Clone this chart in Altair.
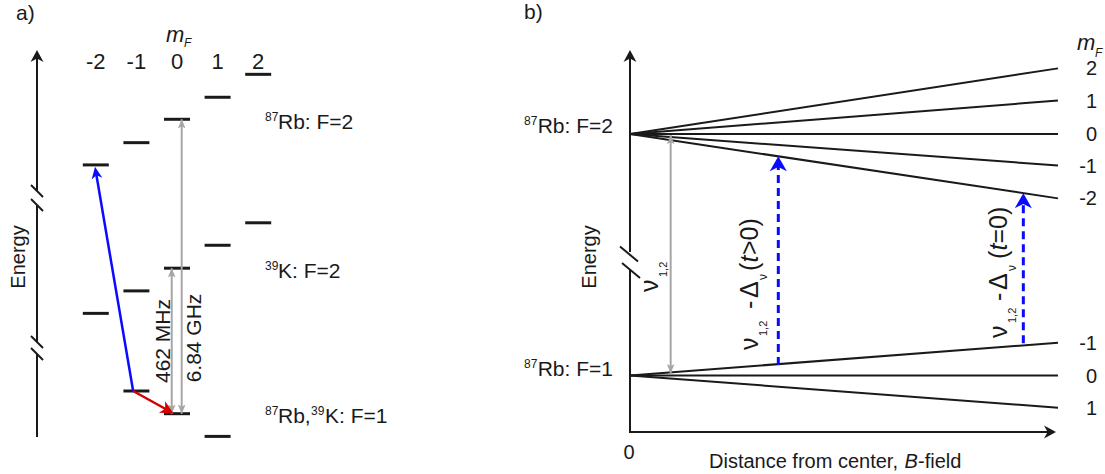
import math
import altair as alt
import pandas as pd

W, H = 1105, 474
FONT = "Liberation Sans"
INK = "#1a1a1a"
GREY = "#a6a6a6"
BLUE = "#0a0aff"
RED = "#d40000"

# ---------------- data ----------------
# panel a: level energies (arbitrary units; 1 unit = one Zeeman step)
mf_f2 = [-2, -1, 0, 1, 2]
mf_f2_labels = ["-2", "-1", "0", "1", "2"]
rb_f2_energy = [10.96, 11.94, 12.97, 13.94, 14.95]
k_f2_energy = [4.42, 5.41, 6.41, 7.42, 8.41]
mf_f1 = [-1, 0, 1]
f1_energy = [1.0, 0.0, -1.0]

hfs_labels = ["462 MHz", "6.84 GHz"]
hfs_mf = [-0.13, 0.116]
hfs_lower = [0.0, 0.0]
hfs_upper = [6.41, 12.97]

blue_mf = [-1.08, -2.02]
blue_energy = [1.0, 10.88]
red_mf = [-1.08, -0.09]
red_energy = [1.0, 0.02]

# panel b: Zeeman lines vs distance from centre
zee_distance = [0.0, 1.0]
zee_f2_labels = ["2", "1", "0", "-1", "-2"]
zee_f2_start = [7.43, 7.43, 7.43, 7.43, 7.43]
zee_f2_end = [9.45, 8.46, 7.43, 6.46, 5.45]
zee_f1_labels = ["-1", "0", "1"]
zee_f1_start = [0.0, 0.0, 0.0]
zee_f1_end = [1.01, 0.0, -0.99]

nu12_distance = [0.095]
nu12_lower = [0.07]
nu12_upper = [7.40]

probe_distance = [0.3465, 0.919]
probe_lower = [0.32, 0.99]
probe_upper = [6.75, 5.61]

# ---------------- scales (layout) ----------------
A_X0, A_DX, A_Y0, A_DY = 177.0, 40.6, 413.7, 22.7
B_X0, B_DX, B_Y0, B_DY = 630.0, 428.0, 375.5, 32.5

xa = alt.Scale(domain=[-A_X0 / A_DX, (W - A_X0) / A_DX], nice=False, zero=False)
ya = alt.Scale(domain=[(A_Y0 - H) / A_DY, A_Y0 / A_DY], nice=False, zero=False)
xb = alt.Scale(domain=[-B_X0 / B_DX, (W - B_X0) / B_DX], nice=False, zero=False)
yb = alt.Scale(domain=[(B_Y0 - H) / B_DY, B_Y0 / B_DY], nice=False, zero=False)


def pa(m, e):
    return (A_X0 + A_DX * m, A_Y0 - A_DY * e)


def heading(p, q):
    return math.degrees(math.atan2(q[0] - p[0], -(q[1] - p[1]))) % 360


def head_path(hw, notch):
    return f"M0,0L{hw},1L0,{notch}L{-hw},1Z"


ONE = pd.DataFrame({"k": [0]})


def Xq(f, s):
    return alt.X(f, type="quantitative", scale=s, axis=None)


def Yq(f, s):
    return alt.Y(f, type="quantitative", scale=s, axis=None)


def txt(s, px, py, size=21, align="left", baseline="alphabetic", angle=0,
        italic=False, color=INK):
    kw = dict(fontSize=size, align=align, baseline=baseline, font=FONT, color=color)
    if angle:
        kw["angle"] = angle
    if italic:
        kw["fontStyle"] = "italic"
    return alt.Chart(ONE).mark_text(**kw).encode(
        x=alt.value(px), y=alt.value(py), text=alt.value(s))


def seg(x1, y1, x2, y2, color=INK, width=2.0, dash=None):
    kw = dict(color=color, strokeWidth=width)
    if dash:
        kw["strokeDash"] = dash
    return alt.Chart(ONE).mark_rule(**kw).encode(
        x=alt.value(x1), y=alt.value(y1), x2=alt.value(x2), y2=alt.value(y2))


def head_px(px, py, angle, L, hw, notch, color=INK):
    return alt.Chart(ONE).mark_point(
        shape=head_path(hw, notch), filled=True, size=4 * L * L,
        color=color, opacity=1, angle=angle).encode(x=alt.value(px), y=alt.value(py))


def head_data(df, xf, yf, xs, ys, angle, L, hw, notch, color):
    return alt.Chart(df).mark_point(
        shape=head_path(hw, notch), filled=True, size=4 * L * L,
        color=color, opacity=1, angle=angle).encode(x=Xq(xf, xs), y=Yq(yf, ys))


layers = []

# ======================= panel a =======================
layers.append(txt("a)", 16, 20))
# energy axis with breaks
layers += [
    seg(37, 57, 37, 191), seg(37, 205, 37, 342), seg(37, 354, 37, 437),
    seg(31, 185, 43, 197), seg(31, 199, 43, 211),
    seg(31, 336, 43, 348), seg(31, 348, 43, 360),
    head_px(37, 50, 0, 12, 0.54, 0.7),
    txt("Energy", 25, 257, size=20, align="center", angle=270),
]
# m_F header
layers += [txt("m", 166, 42, size=22, italic=True), txt("F", 184, 47, size=12, italic=True)]
mf_df = pd.DataFrame({"mF": mf_f2, "label": mf_f2_labels})
layers.append(alt.Chart(mf_df).mark_text(font=FONT, fontSize=22, color=INK, align="center",
                                         baseline="alphabetic").encode(
    x=Xq("mF", xa), y=alt.value(69), text="label:N"))

# levels
lev = pd.DataFrame({"mF": mf_f2 + mf_f2 + mf_f1,
                    "E": rb_f2_energy + k_f2_energy + f1_energy})
layers.append(alt.Chart(lev).transform_calculate(
    x1="datum.mF - 0.32", x2="datum.mF + 0.32").mark_rule(color=INK, strokeWidth=3).encode(
    x=Xq("x1", xa), x2="x2:Q", y=Yq("E", ya)))

# level labels
layers += [
    txt("87", 265, 121, size=12), txt("Rb: F=2", 278, 129),
    txt("39", 265, 270, size=12), txt("K: F=2", 278, 278),
    txt("87", 265, 415, size=12), txt("Rb,", 278, 423),
    txt("39", 311, 415, size=12), txt("K: F=1", 325, 423),
]

# hyperfine arrows
hfs = pd.DataFrame({"mF": hfs_mf, "lo": hfs_lower, "hi": hfs_upper, "label": hfs_labels})
layers.append(alt.Chart(hfs).mark_rule(color=GREY, strokeWidth=2).encode(
    x=Xq("mF", xa), y=Yq("lo", ya), y2="hi:Q"))
layers.append(head_data(hfs, "mF", "hi", xa, ya, 0, 9, 0.42, 0.8, GREY))
layers.append(head_data(hfs, "mF", "lo", xa, ya, 180, 9, 0.42, 0.8, GREY))
layers += [
    txt(hfs_labels[0], 170, 341, size=21, align="center", angle=270),
    txt(hfs_labels[1], 201, 338, size=21, align="center", angle=270),
]


def diag_arrow(ms, es, color, L, hw, width):
    p, q = pa(ms[0], es[0]), pa(ms[1], es[1])
    ln = math.hypot(q[0] - p[0], q[1] - p[1])
    t = 1 - (L * 0.6) / ln
    df = pd.DataFrame({"m0": [ms[0]], "e0": [es[0]],
                       "m1": [ms[0] + (ms[1] - ms[0]) * t], "e1": [es[0] + (es[1] - es[0]) * t],
                       "mt": [ms[1]], "et": [es[1]]})
    line = alt.Chart(df).mark_rule(color=color, strokeWidth=width).encode(
        x=Xq("m0", xa), y=Yq("e0", ya), x2="m1:Q", y2="e1:Q")
    head = head_data(df, "mt", "et", xa, ya, heading(p, q), L, hw, 0.72, color)
    return [line, head]


layers += diag_arrow(blue_mf, blue_energy, BLUE, 12, 0.45, 2.5)
layers += diag_arrow(red_mf, red_energy, RED, 13, 0.5, 2.5)

# ======================= panel b =======================
layers.append(txt("b)", 524, 19))
layers += [
    seg(630, 57, 630, 252), seg(630, 269, 630, 432),
    seg(620, 246.5, 638, 261.5), seg(622, 263, 640, 278),
    head_px(630, 50, 0, 12, 0.54, 0.7),
    seg(629, 432, 1049, 432),
    head_px(1056, 432, 90, 12, 0.54, 0.7),
    txt("Energy", 596, 257, size=20, align="center", angle=270),
    txt("0", 629, 459, size=20, align="center"),
    txt("Distance from center,", 709, 468, size=20),
    txt("B", 904.5, 468, size=20, italic=True),
    txt("-field", 918, 468, size=20),
    txt("m", 1077, 50, size=22, italic=True), txt("F", 1095, 57, size=12, italic=True),
    txt("87", 524, 125, size=12), txt("Rb: F=2", 613, 133, align="right"),
    txt("87", 524, 368, size=12), txt("Rb: F=1", 613, 376, align="right"),
]

zee = pd.DataFrame({"d0": zee_distance[0], "d1": zee_distance[1],
                    "e0": zee_f2_start + zee_f1_start, "e1": zee_f2_end + zee_f1_end,
                    "label": zee_f2_labels + zee_f1_labels})
layers.append(alt.Chart(zee).mark_rule(color=INK, strokeWidth=2).encode(
    x=Xq("d0", xb), x2="d1:Q", y=Yq("e0", yb), y2="e1:Q"))
layers.append(alt.Chart(zee).mark_text(font=FONT, fontSize=20, color=INK, align="right",
                                       baseline="alphabetic", dx=39, dy=7).encode(
    x=Xq("d1", xb), y=Yq("e1", yb), text="label:N"))

# nu_12 grey arrow
nu = pd.DataFrame({"d": nu12_distance, "lo": nu12_lower, "hi": nu12_upper})
layers.append(alt.Chart(nu).mark_rule(color=GREY, strokeWidth=2).encode(
    x=Xq("d", xb), y=Yq("lo", yb), y2="hi:Q"))
layers.append(head_data(nu, "d", "hi", xb, yb, 0, 9, 0.42, 0.8, GREY))
layers.append(head_data(nu, "d", "lo", xb, yb, 180, 9, 0.42, 0.8, GREY))
layers += [txt("ν", 658, 292, size=25, angle=270), txt("1,2", 667, 277, size=11, angle=270)]

# probe arrows
pr = pd.DataFrame({"d": probe_distance, "lo": probe_lower, "hi": probe_upper})
layers.append(alt.Chart(pr).transform_calculate(top="datum.hi - 0.3").mark_rule(
    color=BLUE, strokeWidth=3, strokeDash=[8, 5]).encode(
    x=Xq("d", xb), y=Yq("lo", yb), y2="top:Q"))
layers.append(head_data(pr, "d", "hi", xb, yb, 0, 15, 0.57, 0.72, BLUE))


def probe_label(xb0, starts, cond):
    s_nu, s_sub, s_dash, s_delta, s_subnu, s_par, s_t, s_rest = starts
    return [
        txt("ν", xb0, s_nu, size=25, angle=270),
        txt("1,2", xb0 + 9, s_sub, size=11, angle=270),
        txt("-", xb0, s_dash, size=25, angle=270),
        txt("Δ", xb0, s_delta, size=25, angle=270),
        txt("ν", xb0 + 9, s_subnu, size=12, angle=270),
        txt("(", xb0, s_par, size=25, angle=270),
        txt("t", xb0, s_t, size=25, angle=270, italic=True),
        txt(cond + "0)", xb0, s_rest, size=25, angle=270),
    ]


layers += probe_label(758, [350, 336, 309, 298, 280, 271, 262.5, 255], ">")
layers += probe_label(1007, [338, 323, 301, 290, 271, 259, 250.5, 243.5], "=")

chart = alt.layer(*layers).properties(
    width=W, height=H, padding=0, autosize="none", background="white"
).resolve_scale(x="independent", y="independent").configure_view(stroke=None)

chart.save("out.html", embed_options={"renderer": "svg", "actions": False})
